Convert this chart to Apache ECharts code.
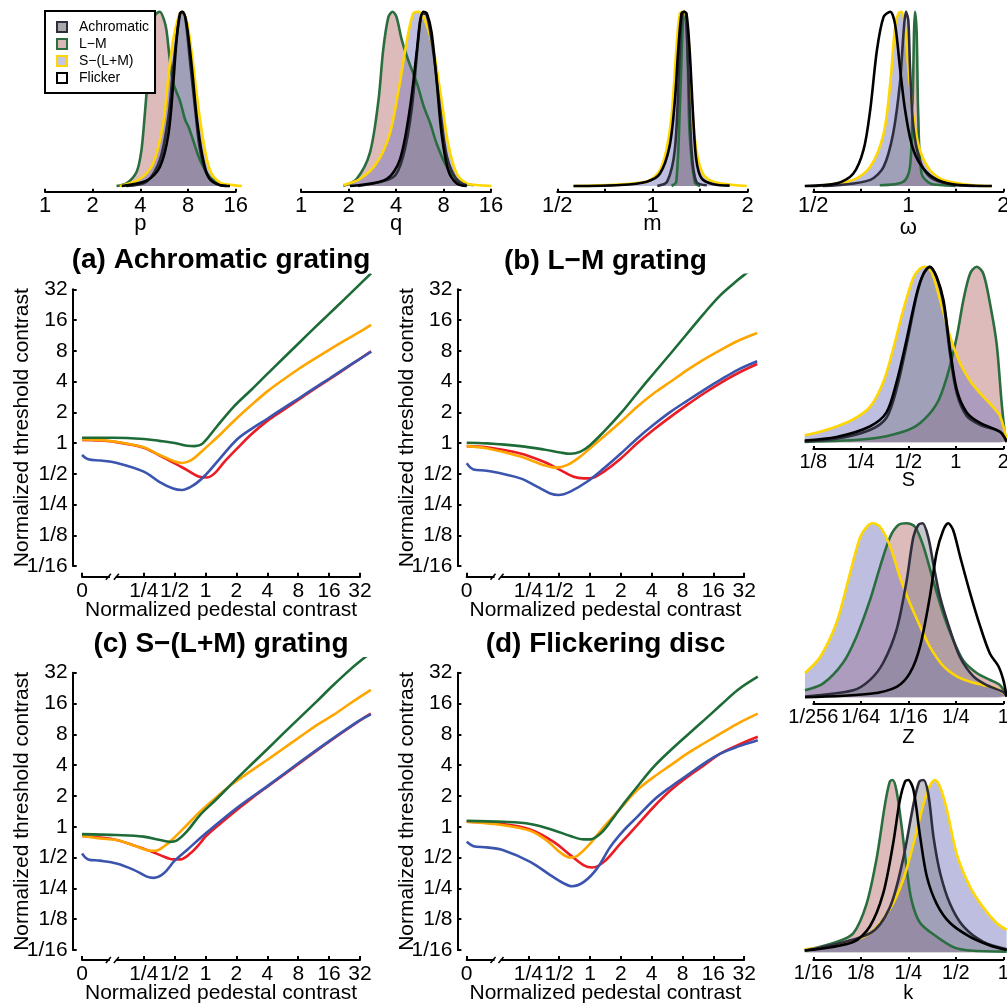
<!DOCTYPE html>
<html>
<head>
<meta charset="utf-8">
<script src="https://cdn.jsdelivr.net/npm/echarts@6/dist/echarts.min.js"></script>
<style>
  html, body { margin: 0; padding: 0; background: #fff; }
  #main { width: 1007px; height: 1004px; }
</style>
</head>
<body>
<div id="main"></div>
<script>
// ---------------------------------------------------------------------------
// Threshold-vs-pedestal model curves, stored as [log2 pedestal, log2 threshold].
// The zero pedestal is drawn at log2 = -4 (left of the axis break).
// ---------------------------------------------------------------------------
const aGreen = [[-4,0.17],[-3,0.17],[-2,0.13],[-1.5,0.07],[-1,0.0],[-0.6,-0.09],[-0.35,-0.1],[-0.1,-0.02],[0.36,0.53],[0.9,1.17],[1.5,1.75],[2,2.25],[2.5,2.74],[3,3.23],[3.5,3.72],[4,4.2],[4.5,4.68],[5,5.17],[5.36,5.52]];
const aOrange = [[-4,0.12],[-3.4,0.1],[-2.9,0.04],[-2,-0.14],[-1.5,-0.38],[-1,-0.6],[-0.75,-0.65],[-0.45,-0.55],[-0.1,-0.25],[0.2,0.02],[0.5,0.3],[0.9,0.7],[1.5,1.25],[2,1.68],[2.5,2.05],[3,2.4],[3.5,2.72],[4,3.03],[4.5,3.33],[5,3.62],[5.36,3.84]];
const aRed = [[-4,0.1],[-3.4,0.08],[-2.9,0.03],[-2,-0.15],[-1.5,-0.4],[-1,-0.66],[-0.6,-0.88],[-0.2,-1.1],[0.05,-1.12],[0.3,-0.98],[0.6,-0.62],[1,-0.2],[1.5,0.3],[2,0.72],[2.5,1.06],[3,1.4],[3.5,1.74],[4,2.07],[4.5,2.4],[5,2.74],[5.36,2.98]];
const aBlue = [[-4,-0.39],[-3.8,-0.53],[-3.4,-0.57],[-2.9,-0.64],[-2,-0.93],[-1.5,-1.26],[-1.05,-1.48],[-0.77,-1.53],[-0.4,-1.38],[0,-1.04],[0.47,-0.5],[1,0.1],[1.5,0.47],[2,0.79],[2.5,1.12],[3,1.44],[3.5,1.77],[4,2.09],[4.5,2.42],[5,2.74],[5.36,2.97]];

const bGreen = [[-4,0.01],[-3.35,-0.01],[-2.26,-0.1],[-1.5,-0.21],[-0.96,-0.31],[-0.64,-0.35],[-0.31,-0.28],[0,-0.07],[0.45,0.37],[1,0.97],[1.53,1.62],[2.07,2.27],[2.62,2.92],[3.16,3.57],[3.7,4.22],[4.24,4.82],[4.79,5.3],[5.0,5.47],[5.2,5.62]];
const bOrange = [[-4,-0.1],[-3.35,-0.17],[-2.26,-0.44],[-1.5,-0.72],[-1.12,-0.8],[-0.75,-0.72],[-0.31,-0.44],[0,-0.17],[0.45,0.21],[1,0.69],[1.53,1.18],[2.07,1.62],[2.62,2.0],[3.16,2.38],[3.7,2.72],[4.24,3.03],[4.79,3.32],[5.42,3.58]];
const bRed = [[-4,-0.1],[-3.35,-0.14],[-2.26,-0.34],[-1.5,-0.61],[-0.96,-0.88],[-0.53,-1.1],[-0.2,-1.15],[0.12,-1.12],[0.45,-0.93],[1,-0.5],[1.53,-0.01],[2.07,0.44],[2.62,0.86],[3.16,1.25],[3.7,1.62],[4.24,1.96],[4.79,2.27],[5.42,2.57]];
const bBlue = [[-4,-0.66],[-3.78,-0.86],[-3.35,-0.9],[-2.26,-1.15],[-1.72,-1.42],[-1.29,-1.64],[-1.02,-1.69],[-0.64,-1.58],[-0.1,-1.26],[0.45,-0.82],[1,-0.34],[1.53,0.15],[2.07,0.6],[2.62,1.02],[3.16,1.38],[3.7,1.73],[4.24,2.06],[4.79,2.38],[5.42,2.66]];

const cGreen = [[-4,-0.24],[-2.88,-0.27],[-2.01,-0.32],[-1.47,-0.43],[-1.15,-0.49],[-0.94,-0.45],[-0.61,-0.16],[-0.18,0.38],[0.36,0.9],[0.9,1.45],[1.44,1.98],[1.98,2.5],[2.52,3.03],[3.06,3.55],[3.6,4.07],[4.14,4.6],[4.68,5.1],[5.1,5.45],[5.3,5.6]];
const cOrange = [[-4,-0.3],[-3.42,-0.38],[-2.88,-0.43],[-2.34,-0.6],[-1.9,-0.76],[-1.63,-0.78],[-1.36,-0.65],[-1.04,-0.38],[-0.61,0.05],[-0.18,0.49],[0.36,0.97],[0.9,1.41],[1.44,1.79],[1.98,2.16],[2.52,2.54],[3.06,2.92],[3.6,3.3],[4.14,3.63],[4.68,4.0],[5.35,4.44]];
const cRed = [[-4,-0.3],[-3.42,-0.35],[-2.88,-0.43],[-2.34,-0.6],[-1.9,-0.75],[-1.47,-0.92],[-1.04,-1.06],[-0.82,-1.06],[-0.5,-0.87],[-0.18,-0.54],[0,-0.32],[0.5,0.12],[1,0.54],[1.5,0.93],[2,1.3],[3,2.03],[4,2.76],[5,3.45],[5.35,3.67]];
const cBlue = [[-4,-0.87],[-3.8,-1.06],[-3.42,-1.1],[-2.88,-1.19],[-2.34,-1.39],[-1.9,-1.62],[-1.68,-1.66],[-1.36,-1.52],[-1.0,-1.1],[-0.61,-0.76],[0,-0.22],[1,0.6],[2,1.32],[3,2.06],[4,2.78],[5,3.46],[5.35,3.65]];

const dGreen = [[-4,0.19],[-2.81,0.16],[-1.94,0.09],[-1.18,-0.11],[-0.64,-0.3],[-0.2,-0.41],[0.01,-0.41],[0.34,-0.22],[0.66,0.16],[1.1,0.76],[1.53,1.3],[2.07,1.95],[2.62,2.49],[3.16,2.98],[3.7,3.46],[4.24,3.95],[4.79,4.44],[5.44,4.87]];
const dOrange = [[-4,0.16],[-2.81,0.05],[-1.94,-0.13],[-1.4,-0.45],[-0.96,-0.84],[-0.64,-1.0],[-0.42,-0.95],[0.01,-0.54],[0.45,0.0],[0.99,0.6],[1.53,1.19],[2.07,1.62],[2.62,2.0],[3.16,2.38],[3.7,2.71],[4.24,3.03],[4.79,3.35],[5.44,3.67]];
const dRed = [[-4,0.16],[-2.81,0.08],[-1.94,-0.09],[-1.18,-0.49],[-0.64,-0.92],[-0.2,-1.25],[0.07,-1.32],[0.45,-1.14],[0.99,-0.54],[1.53,0.05],[2.07,0.65],[2.62,1.19],[3.16,1.62],[3.7,2.0],[4.24,2.38],[4.79,2.65],[5.44,2.92]];
const dBlue = [[-4,-0.49],[-3.78,-0.63],[-3.35,-0.67],[-2.81,-0.76],[-1.94,-1.14],[-1.29,-1.57],[-0.85,-1.84],[-0.58,-1.93],[-0.2,-1.79],[0.23,-1.35],[0.66,-0.65],[1.1,-0.11],[1.53,0.32],[2.07,0.87],[2.62,1.3],[3.16,1.68],[3.7,2.06],[4.24,2.38],[4.79,2.6],[5.44,2.81]];

// ---------------------------------------------------------------------------
// Posterior densities of the model parameters: [log2 parameter, density / peak].
// ---------------------------------------------------------------------------
const pAchro = [[1.7,0],[2.13,0.025],[2.41,0.15],[2.59,0.4],[2.69,0.68],[2.8,0.93],[2.87,1],[2.94,0.97],[3.04,0.72],[3.15,0.44],[3.25,0.21],[3.39,0.07],[3.6,0.012],[3.81,0]];
const pLM = [[1.5,0],[1.71,0.015],[1.92,0.08],[2.02,0.2],[2.09,0.4],[2.15,0.6],[2.22,0.8],[2.31,0.98],[2.41,1],[2.5,0.95],[2.55,0.89],[2.62,0.72],[2.69,0.59],[2.83,0.49],[2.94,0.38],[3.01,0.34],[3.11,0.26],[3.25,0.15],[3.46,0.05],[3.67,0.015],[3.81,0]];
const pSLM = [[1.57,0],[1.99,0.04],[2.27,0.13],[2.48,0.36],[2.59,0.63],[2.69,0.84],[2.8,0.97],[2.87,1],[2.97,0.95],[3.08,0.76],[3.18,0.53],[3.32,0.26],[3.46,0.09],[3.67,0.02],[3.95,0.005],[4.13,0]];
const pFlicker = [[1.61,0],[2.13,0.03],[2.41,0.11],[2.59,0.3],[2.69,0.59],[2.76,0.84],[2.83,0.99],[2.89,1],[2.97,0.93],[3.08,0.68],[3.18,0.4],[3.29,0.19],[3.43,0.05],[3.67,0.005],[3.88,0]];

const qAchro = [[1.2,0],[1.94,0.05],[2.15,0.17],[2.33,0.44],[2.47,0.84],[2.56,0.99],[2.65,0.98],[2.79,0.76],[2.93,0.44],[3.07,0.17],[3.28,0.035],[3.49,0.004]];
const qLM = [[0.89,0],[1.17,0.04],[1.45,0.19],[1.63,0.49],[1.73,0.78],[1.84,0.97],[1.93,1],[2.01,0.97],[2.12,0.84],[2.26,0.72],[2.44,0.59],[2.58,0.46],[2.72,0.36],[2.86,0.24],[3.07,0.11],[3.35,0.025],[3.63,0.004]];
const qSLM = [[0.89,0.005],[1.24,0.04],[1.59,0.13],[1.87,0.3],[2.08,0.59],[2.22,0.82],[2.36,0.99],[2.47,1],[2.61,0.95],[2.79,0.78],[2.96,0.49],[3.1,0.24],[3.28,0.07],[3.49,0.015],[3.77,0.004],[4.01,0]];
const qFlicker = [[1.03,0],[1.8,0.04],[2.08,0.15],[2.29,0.44],[2.44,0.78],[2.51,0.95],[2.58,1],[2.65,0.99],[2.75,0.88],[2.86,0.59],[2.96,0.3],[3.1,0.09],[3.28,0.015],[3.49,0]];

const mAchro = [[0.05,0],[0.154,0.025],[0.235,0.21],[0.28,0.68],[0.31,0.99],[0.34,1],[0.375,0.68],[0.41,0.21],[0.46,0.025],[0.57,0.004]];
const mLM = [[0.2,0],[0.25,0.025],[0.29,0.49],[0.32,0.95],[0.337,1],[0.364,0.84],[0.39,0.3],[0.445,0.02],[0.5,0]];
const mSLM = [[-0.83,0],[-0.06,0.025],[0.077,0.09],[0.147,0.21],[0.2,0.4],[0.25,0.78],[0.287,0.99],[0.33,1],[0.375,0.88],[0.41,0.49],[0.46,0.21],[0.53,0.07],[0.64,0.025],[0.85,0.006],[0.99,0]];
const mFlicker = [[-0.83,0],[-0.34,0.006],[-0.06,0.025],[0.077,0.07],[0.18,0.23],[0.235,0.49],[0.27,0.78],[0.305,0.99],[0.33,1],[0.357,0.99],[0.39,0.78],[0.427,0.4],[0.46,0.15],[0.515,0.045],[0.64,0.01],[0.81,0.002]];

const wAchro = [[-0.9,0],[-0.75,0.004],[-0.4,0.035],[-0.26,0.11],[-0.16,0.3],[-0.088,0.59],[-0.05,0.88],[-0.025,1],[0,0.95],[0.018,0.68],[0.053,0.34],[0.12,0.15],[0.23,0.05],[0.44,0.01],[0.7,0]];
const wLM = [[-0.3,0.004],[-0.05,0.025],[0.018,0.11],[0.046,0.49],[0.06,0.88],[0.07,1],[0.088,0.88],[0.105,0.4],[0.14,0.07],[0.23,0.015],[0.37,0.004],[0.5,0]];
const wSLM = [[-0.93,0.002],[-0.58,0.035],[-0.4,0.11],[-0.26,0.3],[-0.19,0.59],[-0.14,0.91],[-0.105,0.99],[-0.07,1],[-0.035,0.91],[0,0.68],[0.053,0.4],[0.12,0.21],[0.23,0.09],[0.37,0.035],[0.65,0.006],[0.88,0]];
const wFlicker = [[-1.09,0],[-0.75,0.015],[-0.58,0.07],[-0.47,0.21],[-0.4,0.44],[-0.33,0.78],[-0.26,0.97],[-0.19,1],[-0.14,0.93],[-0.088,0.68],[-0.035,0.44],[0.035,0.24],[0.12,0.13],[0.26,0.05],[0.47,0.01],[0.88,0]];

const sAchro = [[-3.18,0.005],[-2.51,0.02],[-1.81,0.07],[-1.46,0.14],[-1.25,0.3],[-1.04,0.55],[-0.82,0.84],[-0.68,0.96],[-0.56,1],[-0.42,0.95],[-0.26,0.79],[-0.12,0.5],[0.02,0.28],[0.23,0.15],[0.51,0.1],[0.93,0.06],[1.07,0.005]];
const sLM = [[-3.18,0.002],[-1.81,0.02],[-1.11,0.06],[-0.75,0.11],[-0.4,0.22],[-0.19,0.37],[0.02,0.6],[0.16,0.81],[0.3,0.96],[0.44,1],[0.58,0.96],[0.72,0.79],[0.86,0.56],[0.96,0.24],[1.04,0.03],[1.07,0]];
const sSLM = [[-3.18,0.04],[-2.86,0.06],[-2.51,0.09],[-2.16,0.13],[-1.81,0.2],[-1.53,0.34],[-1.32,0.53],[-1.11,0.75],[-0.89,0.94],[-0.75,0.99],[-0.65,1],[-0.51,0.97],[-0.33,0.81],[-0.12,0.6],[0.09,0.45],[0.3,0.35],[0.51,0.28],[0.72,0.22],[0.93,0.15],[1.07,0.01]];
const sFlicker = [[-3.18,0.01],[-2.51,0.03],[-1.81,0.09],[-1.46,0.17],[-1.25,0.34],[-1.04,0.58],[-0.82,0.85],[-0.68,0.96],[-0.54,1],[-0.4,0.94],[-0.26,0.81],[-0.12,0.53],[0.02,0.3],[0.23,0.17],[0.51,0.11],[0.93,0.06],[1.07,0.005]];

const zAchro = [[-8.35,0.004],[-6.32,0.04],[-5.61,0.1],[-5.05,0.2],[-4.49,0.39],[-4.07,0.67],[-3.79,0.92],[-3.58,0.99],[-3.4,1],[-3.16,0.92],[-2.95,0.77],[-2.67,0.58],[-2.25,0.39],[-1.82,0.23],[-1.26,0.12],[-0.7,0.07],[0,0.03],[0.14,0.004]];
const zLM = [[-8.35,0.04],[-7.58,0.08],[-6.74,0.2],[-6.18,0.35],[-5.61,0.56],[-5.19,0.75],[-4.77,0.92],[-4.42,0.99],[-4.07,1],[-3.72,0.98],[-3.37,0.87],[-2.95,0.67],[-2.53,0.48],[-2.11,0.33],[-1.68,0.21],[-1.12,0.14],[-0.56,0.1],[-0.14,0.07],[0.14,0.01]];
const zSLM = [[-8.35,0.14],[-7.72,0.23],[-7.02,0.43],[-6.46,0.71],[-6.03,0.92],[-5.75,0.98],[-5.5,1],[-5.19,0.98],[-4.77,0.87],[-4.35,0.69],[-3.93,0.54],[-3.51,0.41],[-3.09,0.29],[-2.53,0.18],[-1.96,0.12],[-1.4,0.09],[-0.84,0.07],[-0.28,0.05],[0.14,0.01]];
const zFlicker = [[-8.35,0],[-5.61,0.02],[-4.49,0.06],[-3.93,0.14],[-3.51,0.29],[-3.09,0.58],[-2.81,0.83],[-2.53,0.96],[-2.32,1],[-2.11,0.96],[-1.82,0.81],[-1.4,0.6],[-0.98,0.41],[-0.56,0.25],[-0.21,0.18],[0,0.1],[0.14,0.004]];

const kAchro = [[-4.18,0.01],[-2.81,0.11],[-2.39,0.26],[-2.11,0.54],[-1.89,0.86],[-1.77,0.99],[-1.68,1],[-1.58,0.92],[-1.47,0.67],[-1.33,0.46],[-1.12,0.28],[-0.84,0.15],[-0.42,0.06],[0.07,0.017]];
const kLM = [[-4.18,0.01],[-3.51,0.06],[-3.16,0.11],[-2.88,0.28],[-2.67,0.54],[-2.49,0.86],[-2.39,0.99],[-2.33,1],[-2.25,0.94],[-2.14,0.73],[-2.04,0.5],[-1.93,0.3],[-1.75,0.17],[-1.4,0.09],[-1.05,0.03],[-0.7,0.01],[0.07,0.004]];
const kSLM = [[-4.18,0.017],[-3.51,0.043],[-2.81,0.11],[-2.39,0.25],[-2.11,0.42],[-1.89,0.63],[-1.68,0.86],[-1.54,0.97],[-1.44,1],[-1.33,0.96],[-1.19,0.83],[-0.98,0.57],[-0.7,0.38],[-0.42,0.26],[-0.14,0.17],[0.07,0.13]];
const kFlicker = [[-4.18,0.01],[-3.16,0.06],[-2.81,0.15],[-2.53,0.34],[-2.32,0.63],[-2.18,0.88],[-2.07,0.99],[-2.0,1],[-1.89,0.94],[-1.75,0.67],[-1.61,0.44],[-1.4,0.28],[-1.12,0.17],[-0.7,0.09],[-0.28,0.04],[0.07,0.014]];

// Tick positions (log2 units)
const thresholdTicks = [-4,-3,-2,-1,0,1,2,3,4,5];
const pedestalTicks = [-4,-2,-1,0,1,2,3,4,5];
const stimulusNames = ['Achromatic', 'L\u2212M', 'S\u2212(L+M)', 'Flicker'];

// ---------------------------------------------------------------------------
const FONT = '"Liberation Sans", Arial, Helvetica, sans-serif';
const CURVE = { green: '#1d6b36', orange: '#ffa500', red: '#ec1c24', blue: '#3b55ae' };
const STIM = {
  'Achromatic':      { line: '#2e2e3e', fill: 'rgba(118,118,132,0.42)', icon: '#a8a8a8' },
  'L\u2212M':        { line: '#2a6e3f', fill: 'rgba(189,119,119,0.5)',  icon: '#dcb6b6' },
  'S\u2212(L+M)':    { line: '#ffd700', fill: 'rgba(125,125,195,0.5)',  icon: '#c4c4e4' },
  'Flicker':         { line: '#000000', fill: null,                     icon: '#ffffff' }
};

function pow2Label(v) {
  const r = Math.round(v);
  if (Math.abs(v - r) > 1e-6) return '';
  return r >= 0 ? String(Math.pow(2, r)) : '1/' + Math.pow(2, -r);
}

// A plotting area whose value range is wider than the drawn axis, at the same scale.
function widerRect(rect, xr, yr, xData, yData) {
  const kx = rect.width / (xr[1] - xr[0]);
  const ky = rect.height / (yr[1] - yr[0]);
  return {
    left: rect.left + (xData[0] - xr[0]) * kx,
    width: (xData[1] - xData[0]) * kx,
    top: rect.top - (yData[1] - yr[1]) * ky,
    height: (yData[1] - yData[0]) * ky
  };
}

const option = {
  animation: false,
  backgroundColor: '#fff',
  title: [], grid: [], xAxis: [], yAxis: [], series: [],
  legend: {
    left: 45, top: 11, orient: 'vertical',
    backgroundColor: '#fff', borderColor: '#000', borderWidth: 2, borderRadius: 0,
    padding: [9, 6, 8, 11], itemGap: 3, itemWidth: 10, itemHeight: 10,
    selectedMode: false, z: 20,
    textStyle: { fontSize: 14, fontFamily: FONT, color: '#000', padding: [0, 0, 0, 7] },
    data: stimulusNames.map(n => ({
      name: n, icon: 'rect',
      itemStyle: { color: STIM[n].icon, borderColor: STIM[n].line, borderWidth: 2 }
    }))
  }
};

function addGrid(r) {
  option.grid.push({ left: r.left, top: r.top, width: r.width, height: r.height, outerBoundsMode: 'none', containLabel: false });
  return option.grid.length - 1;
}
function hiddenAxis(gi, range) {
  return { gridIndex: gi, type: 'value', min: range[0], max: range[1], show: false, splitLine: { show: false } };
}

const mainPanels = [
  { title: '(a) Achromatic grating', left: 82,    top: 289.3, width: 278,   height: 276.7, xOffset: 10.7, titleTop: 246,
    curves: [[aRed, 'red'], [aBlue, 'blue'], [aOrange, 'orange'], [aGreen, 'green']] },
  { title: '(b) L\u2212M grating',   left: 466.7, top: 289.3, width: 277.5, height: 276.7, xOffset: 10.7, titleTop: 247,
    curves: [[bRed, 'red'], [bBlue, 'blue'], [bOrange, 'orange'], [bGreen, 'green']] },
  { title: '(c) S\u2212(L+M) grating', left: 82,  top: 672.7, width: 278,   height: 277.3, xOffset: 10,   titleTop: 630,
    curves: [[cRed, 'red'], [cBlue, 'blue'], [cOrange, 'orange'], [cGreen, 'green']] },
  { title: '(d) Flickering disc',    left: 466.7, top: 672.7, width: 277.5, height: 277.3, xOffset: 10,   titleTop: 630,
    curves: [[dRed, 'red'], [dBlue, 'blue'], [dOrange, 'orange'], [dGreen, 'green']] }
];
const LOG_RANGE = [-4, 5];
const MAIN_DATA_X = [-4, 5.5];
const MAIN_DATA_Y = [-4, 5.47];

const axisLine = { show: true, onZero: false, lineStyle: { color: '#000', width: 2 } };

mainPanels.forEach(p => {
  // visible axes
  const gi = addGrid(p);
  p.gridIndex = gi;
  option.title.push({
    text: p.title, left: p.left + p.width / 2, top: p.titleTop, textAlign: 'center', padding: 0,
    textStyle: { fontSize: 28, fontWeight: 'bold', fontFamily: FONT, color: '#000' }
  });
  option.xAxis.push({
    gridIndex: gi, type: 'value', min: LOG_RANGE[0], max: LOG_RANGE[1], position: 'bottom', offset: p.xOffset,
    axisLine: axisLine,
    axisTick: { show: true, inside: true, length: 4, lineStyle: { color: '#000', width: 2 }, customValues: pedestalTicks },
    axisLabel: { show: true, customValues: pedestalTicks, margin: 4, fontSize: 21, fontFamily: FONT, color: '#000',
                 formatter: v => (v === -4 ? '0' : pow2Label(v)) },
    splitLine: { show: false },
    name: 'Normalized pedestal contrast', nameLocation: 'middle', nameGap: 23, nameMoveOverlap: false,
    nameTextStyle: { fontSize: 21, fontFamily: FONT, color: '#000' }
  });
  option.yAxis.push({
    gridIndex: gi, type: 'value', min: LOG_RANGE[0], max: LOG_RANGE[1], position: 'left', offset: 9.3,
    axisLine: axisLine,
    axisTick: { show: true, inside: true, length: 4, lineStyle: { color: '#000', width: 2 }, customValues: thresholdTicks },
    axisLabel: { show: true, customValues: thresholdTicks, margin: 5, fontSize: 21, fontFamily: FONT, color: '#000',
                 formatter: v => pow2Label(v) },
    splitLine: { show: false },
    name: 'Normalized threshold contrast', nameLocation: 'middle', nameGap: 40, nameMoveOverlap: false,
    nameTextStyle: { fontSize: 21, fontFamily: FONT, color: '#000' }
  });
  // plotting area (same scale, slightly larger range so curves run past the last tick)
  const di = addGrid(widerRect(p, LOG_RANGE, LOG_RANGE, MAIN_DATA_X, MAIN_DATA_Y));
  option.xAxis.push(hiddenAxis(di, MAIN_DATA_X));
  option.yAxis.push(hiddenAxis(di, MAIN_DATA_Y));
  p.curves.forEach(([data, col]) => {
    option.series.push({
      type: 'line', name: col, xAxisIndex: di, yAxisIndex: di, data: data,
      symbol: 'none', showSymbol: false, smooth: 0.35, clip: true, silent: true,
      lineStyle: { color: CURVE[col], width: 2.6 }, itemStyle: { color: CURVE[col] }
    });
  });
});

// Posterior density panels
const densityPanels = [
  { name: 'p', left: 45,    top: 11.7,  width: 190.7, height: 174.3, xOffset: 5.7, range: [0, 4], dataRange: [0, 4.3], ticks: [0,1,2,3,4], labels: [0,1,2,3,4], fs: 22, gap: 21,
    data: [pLM, pSLM, pAchro, pFlicker] },
  { name: 'q', left: 301,   top: 11.7,  width: 190,   height: 174.3, xOffset: 5.7, range: [0, 4], dataRange: [0, 4.3], ticks: [0,1,2,3,4], labels: [0,1,2,3,4], fs: 22, gap: 21,
    data: [qLM, qSLM, qAchro, qFlicker] },
  { name: 'm', left: 557.3, top: 11.7,  width: 190.4, height: 174.3, xOffset: 5.7, range: [-1, 1], dataRange: [-1.2, 1.2], ticks: [-1,-0.5,0,0.5,1], labels: [-1,0,1], fs: 22, gap: 21,
    data: [mLM, mSLM, mAchro, mFlicker] },
  { name: '\u03c9', left: 813.3, top: 11.7, width: 190, height: 174.3, xOffset: 5.7, range: [-1, 1], dataRange: [-1.2, 1.2], ticks: [-1,-0.5,0,0.5,1], labels: [-1,0,1], fs: 22, gap: 25,
    data: [wLM, wSLM, wAchro, wFlicker] },
  { name: 'S', left: 813.3, top: 266.7, width: 190,   height: 175.6, xOffset: 6.7, range: [-3, 1], dataRange: [-3.3, 1.2], ticks: [-3,-2,-1,0,1], labels: [-3,-2,-1,0,1], fs: 20, gap: 21,
    data: [sLM, sSLM, sAchro, sFlicker] },
  { name: 'Z', left: 813.3, top: 523.3, width: 190,   height: 174,   xOffset: 6.7, range: [-8, 0], dataRange: [-8.5, 0.3], ticks: [-8,-6,-4,-2,0], labels: [-8,-6,-4,-2,0], fs: 20, gap: 23,
    data: [zLM, zSLM, zAchro, zFlicker] },
  { name: 'k', left: 813.3, top: 780,   width: 190,   height: 172.3, xOffset: 7.7, range: [-4, 0], dataRange: [-4.3, 0.2], ticks: [-4,-3,-2,-1,0], labels: [-4,-3,-2,-1,0], fs: 20, gap: 23,
    data: [kLM, kSLM, kAchro, kFlicker] }
];
const densityOrder = ['L\u2212M', 'S\u2212(L+M)', 'Achromatic', 'Flicker'];
const DENSITY_Y = [0, 1];

densityPanels.forEach(p => {
  const gi = addGrid(p);
  option.xAxis.push({
    gridIndex: gi, type: 'value', min: p.range[0], max: p.range[1], position: 'bottom', offset: p.xOffset,
    axisLine: axisLine,
    axisTick: { show: true, inside: true, length: 3, lineStyle: { color: '#000', width: 2 }, customValues: p.ticks },
    axisLabel: { show: true, customValues: p.labels, margin: 3, fontSize: p.fs, fontFamily: FONT, color: '#000',
                 formatter: v => pow2Label(v) },
    splitLine: { show: false },
    name: p.name, nameLocation: 'middle', nameGap: p.gap, nameMoveOverlap: false,
    nameTextStyle: { fontSize: p.fs, fontFamily: FONT, color: '#000' }
  });
  option.yAxis.push(hiddenAxis(gi, DENSITY_Y));
  const di = addGrid(widerRect(p, p.range, DENSITY_Y, p.dataRange, [0, 1.05]));
  option.xAxis.push(hiddenAxis(di, p.dataRange));
  option.yAxis.push(hiddenAxis(di, [0, 1.05]));
  p.data.forEach((d, j) => {
    const st = STIM[densityOrder[j]];
    const s = {
      type: 'line', name: densityOrder[j], xAxisIndex: di, yAxisIndex: di, data: d,
      symbol: 'none', showSymbol: false, smooth: 0.3, clip: false, silent: true,
      lineStyle: { color: st.line, width: 2.6 }, itemStyle: { color: st.line }
    };
    if (st.fill) s.areaStyle = { color: st.fill, origin: 'start', opacity: 1 };
    option.series.push(s);
  });
});

const chart = echarts.init(document.getElementById('main'), null, { renderer: 'canvas' });
chart.setOption(option);

// Axis-break marks between the zero pedestal and 1/4
const breakMarks = [];
mainPanels.forEach(p => {
  const pt = chart.convertToPixel({ gridIndex: p.gridIndex }, [-3, -4]);
  const x = pt[0], y = pt[1] + p.xOffset;
  breakMarks.push({ type: 'rect', shape: { x: x - 3, y: y - 3, width: 6, height: 6 }, style: { fill: '#fff' }, z: 100, silent: true });
  breakMarks.push({ type: 'line', shape: { x1: x - 7, y1: y + 3, x2: x - 2, y2: y - 3 }, style: { stroke: '#000', lineWidth: 1.5 }, z: 101, silent: true });
  breakMarks.push({ type: 'line', shape: { x1: x + 1, y1: y + 3, x2: x + 6, y2: y - 3 }, style: { stroke: '#000', lineWidth: 1.5 }, z: 101, silent: true });
});
chart.setOption({ graphic: breakMarks });
</script>
</body>
</html>
